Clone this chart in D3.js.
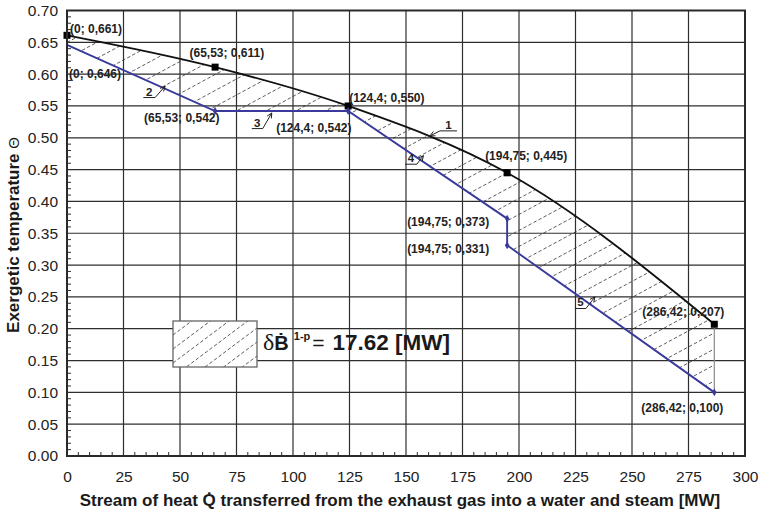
<!DOCTYPE html>
<html><head><meta charset="utf-8">
<script src="https://cdn.jsdelivr.net/npm/d3@7"></script>
<style>
html,body{margin:0;padding:0;background:#fff;}
svg{display:block;font-family:"Liberation Sans",Arial,Helvetica,sans-serif;}
</style></head><body>
<svg id="chart" width="758" height="514"></svg>
<script>
// Curve 1: exhaust gas; curves 2-5: water / steam side
const gasQ = [0, 65.53, 124.4, 194.75, 286.42];
const gasTheta = [0.661, 0.611, 0.550, 0.445, 0.207];
const steamQ = [0, 65.53, 124.4, 194.75, 194.75, 286.42];
const steamTheta = [0.646, 0.542, 0.542, 0.373, 0.331, 0.100];

const xTickValues = [0, 25, 50, 75, 100, 125, 150, 175, 200, 225, 250, 275, 300];
const yTickValues = [0.00, 0.05, 0.10, 0.15, 0.20, 0.25, 0.30, 0.35, 0.40, 0.45, 0.50, 0.55, 0.60, 0.65, 0.70];

const exergyLoss = 17.62;

// numbered curve references: label and the point the arrow touches
const refLabels = ["1", "2", "3", "4", "5"];
const refQ = [160.6, 43.4, 90.6, 157.7, 233.6];
const refTheta = [0.503, 0.581, 0.539, 0.472, 0.250];

// ---- layout ----
const W = 758, H = 514;
const plot = {left: 67, right: 745, top: 10.5, bottom: 456};
const svg = d3.select("#chart");

const x = d3.scaleLinear().domain([0, 300]).range([plot.left, plot.right]);
const y = d3.scaleLinear().domain([0, 0.7]).range([plot.bottom, plot.top]);

const gas = gasQ.map((q, i) => ({q, t: gasTheta[i]}));
const steam = steamQ.map((q, i) => ({q, t: steamTheta[i]}));

// background
svg.append("rect").attr("width", W).attr("height", H).attr("fill", "#fff");

// grid
const grid = svg.append("g").attr("stroke", "#2e2e2e").attr("stroke-width", 1.2);
grid.selectAll("line.v").data(xTickValues.slice(1, -1)).join("line")
  .attr("x1", d => x(d)).attr("x2", d => x(d))
  .attr("y1", plot.top).attr("y2", plot.bottom);
grid.selectAll("line.h").data(yTickValues.slice(1, -1)).join("line")
  .attr("y1", d => y(d)).attr("y2", d => y(d))
  .attr("x1", plot.left).attr("x2", plot.right);

// minor ticks pointing into the plot
const minor = svg.append("g").attr("stroke", "#2e2e2e").attr("stroke-width", 1);
const xMinor = d3.range(0, 300.001, 5).filter(v => v % 25 !== 0);
const yMinor = d3.range(0, 71, 1).map(v => v / 100).filter((v, i) => i % 5 !== 0);
minor.selectAll("line.xm").data(xMinor).join("line")
  .attr("x1", d => x(d)).attr("x2", d => x(d))
  .attr("y1", plot.bottom).attr("y2", plot.bottom - 4);
minor.selectAll("line.ym").data(yMinor).join("line")
  .attr("y1", d => y(d)).attr("y2", d => y(d))
  .attr("x1", plot.left).attr("x2", plot.left + 4);

// axis tick labels (domain/ticks hidden; the grid draws the lines)
const xAxis = svg.append("g").attr("transform", `translate(0,${plot.bottom})`)
  .call(d3.axisBottom(x).tickValues(xTickValues).tickSize(0).tickPadding(15).tickFormat(d3.format("d")));
const yAxis = svg.append("g").attr("transform", `translate(${plot.left},0)`)
  .call(d3.axisLeft(y).tickValues(yTickValues).tickSize(0).tickPadding(9).tickFormat(d3.format(".2f")));
[xAxis, yAxis].forEach(a => {
  a.select(".domain").remove();
  a.selectAll("text").attr("font-size", 15.5).attr("fill", "#222")
    .attr("font-family", "'Liberation Sans', Arial, sans-serif");
});
xAxis.selectAll("text").attr("dy", "0.71em");

// hatched region between the two curves
const gasLine = d3.line().x(d => x(d.q)).y(d => y(d.t)).curve(d3.curveMonotoneX);
const steamLine = d3.line().x(d => x(d.q)).y(d => y(d.t));
const regionPath = gasLine(gas) + steam.slice().reverse()
  .map(d => `L${x(d.q)},${y(d.t)}`).join("") + "Z";

const defs = svg.append("defs");
defs.append("clipPath").attr("id", "lossClip").append("path").attr("d", regionPath);

function hatch(g, x0, x1, y0, y1, slope, spacing, dash) {
  const span = (x1 - x0) * slope;
  const lines = d3.range(y0 - 2 * spacing, y1 + span + spacing, spacing);
  g.selectAll("line.hatch").data(lines).join("line")
    .attr("x1", x0).attr("y1", d => d)
    .attr("x2", x1).attr("y2", d => d - span)
    .attr("stroke", "#333").attr("stroke-width", 0.8)
    .attr("stroke-dasharray", dash);
}
const hatchG = svg.append("g").attr("clip-path", "url(#lossClip)");
hatch(hatchG, plot.left, plot.right, plot.top, plot.bottom, 0.54, 16, "3.5,2.2");

// closing vertical at the end of the range
svg.append("line")
  .attr("x1", x(gasQ[gasQ.length - 1])).attr("x2", x(gasQ[gasQ.length - 1]))
  .attr("y1", y(gasTheta[gasTheta.length - 1])).attr("y2", y(steamTheta[steamTheta.length - 1]))
  .attr("stroke", "#8a8a8a").attr("stroke-width", 1.2);

// curves
svg.append("path").attr("d", steamLine(steam)).attr("fill", "none")
  .attr("stroke", "#3a3a9c").attr("stroke-width", 1.9);
svg.append("path").attr("d", gasLine(gas)).attr("fill", "none")
  .attr("stroke", "#111").attr("stroke-width", 1.9);

// markers
svg.selectAll("rect.gm").data(gas).join("rect")
  .attr("x", d => x(d.q) - 3.5).attr("y", d => y(d.t) - 3.5)
  .attr("width", 7).attr("height", 7).attr("fill", "#000");
svg.selectAll("path.sm").data(steam.slice(1)).join("path")
  .attr("d", d3.symbol(d3.symbolDiamond, 18))
  .attr("transform", d => `translate(${x(d.q)},${y(d.t)})`)
  .attr("fill", "#3a3a9c");

// plot frame
svg.append("rect").attr("x", plot.left).attr("y", plot.top)
  .attr("width", plot.right - plot.left).attr("height", plot.bottom - plot.top)
  .attr("fill", "none").attr("stroke", "#2a2a2a").attr("stroke-width", 2);

// coordinate labels
const fmt = v => String(v).replace(".", ",");
const fmtT = v => v.toFixed(3).replace(".", ",");
const gasOffsets = [[3, -2], [-25.6, -10], [1, -4], [-22, -13], [-72, -8]];
const steamOffsets = [[2, 33], [-71, 11], [-72, 21], [-100, 7.4], [-100, 7.6], [-73, 20]];
const labelG = svg.append("g").attr("font-size", 12).attr("font-weight", "bold").attr("fill", "#222");
function pointLabels(pts, offs) {
  pts.forEach((d, i) => {
    labelG.append("text")
      .attr("x", x(d.q) + offs[i][0]).attr("y", y(d.t) + offs[i][1])
      .text(`(${fmt(d.q)}; ${fmtT(d.t)})`);
  });
}
pointLabels(gas, gasOffsets);
pointLabels(steam, steamOffsets);

// numbered references with leader lines and open arrowheads
const knee = [[10, -5], [-10, 11.3], [-9, 15.6], [-6.6, 8.6], [-9, 11.6]];
const farEnd = [27, -21.7, -20, -18.3, -20];
const refG = svg.append("g");
refLabels.forEach((lab, i) => {
  const tx = x(refQ[i]), ty = y(refTheta[i]);
  const kx = tx + knee[i][0], ky = ty + knee[i][1];
  const fx = tx + farEnd[i];
  refG.append("path")
    .attr("d", `M${fx},${ky}L${kx},${ky}L${tx},${ty}`)
    .attr("fill", "none").attr("stroke", "#222").attr("stroke-width", 1);
  const ang = Math.atan2(ty - ky, tx - kx);
  const a = 5.5, spread = 0.45;
  const p1 = [tx - a * Math.cos(ang - spread), ty - a * Math.sin(ang - spread)];
  const p2 = [tx - a * Math.cos(ang + spread), ty - a * Math.sin(ang + spread)];
  refG.append("path")
    .attr("d", `M${p1[0]},${p1[1]}L${tx},${ty}L${p2[0]},${p2[1]}`)
    .attr("fill", "none").attr("stroke", "#222").attr("stroke-width", 1);
  refG.append("text")
    .attr("x", (kx + fx) / 2).attr("y", ky - 2)
    .attr("text-anchor", "middle").attr("font-size", 11.5).attr("font-weight", "bold")
    .attr("fill", "#222").text(lab);
});

// legend: hatched box and loss value
const box = {x: 173, y: 321, w: 84, h: 46};
defs.append("clipPath").attr("id", "boxClip").append("rect")
  .attr("x", box.x).attr("y", box.y).attr("width", box.w).attr("height", box.h);
svg.append("rect").attr("x", box.x).attr("y", box.y).attr("width", box.w).attr("height", box.h)
  .attr("fill", "#fff");
const boxHatch = svg.append("g").attr("clip-path", "url(#boxClip)");
hatch(boxHatch, box.x, box.x + box.w, box.y, box.y + box.h, 0.75, 14, "3.5,2.2");
svg.append("rect").attr("x", box.x).attr("y", box.y).attr("width", box.w).attr("height", box.h)
  .attr("fill", "none").attr("stroke", "#666").attr("stroke-width", 1.3);

const legendText = svg.append("text").attr("x", 263).attr("y", 350).attr("fill", "#1a1a1a");
legendText.append("tspan").attr("font-family", "'Liberation Serif', 'DejaVu Serif', serif")
  .attr("font-size", 24).text("δ");
legendText.append("tspan").attr("font-size", 20).attr("font-weight", "bold").text("B\u0307");
legendText.append("tspan").attr("font-size", 11).attr("font-weight", "bold").attr("dx", 5).attr("dy", -10).text("1-p");
legendText.append("tspan").attr("font-size", 21).attr("dx", 2).attr("dy", 10).text("=");
legendText.append("tspan").attr("font-size", 22.5).attr("font-weight", "bold").attr("dx", 8)
  .text(`${exergyLoss.toFixed(2)} [MW]`);

// axis titles
svg.append("text").attr("x", 400).attr("y", 506).attr("text-anchor", "middle")
  .attr("font-size", 17).attr("font-weight", "bold").attr("fill", "#1a1a1a")
  .text("Stream of heat Q\u0307 transferred from the exhaust gas into a water and steam [MW]");
const yTitle = svg.append("text").attr("transform", "translate(19,235) rotate(-90)")
  .attr("text-anchor", "middle").attr("font-size", 17).attr("fill", "#1a1a1a");
yTitle.append("tspan").attr("font-weight", "bold").text("Exergetic temperature ");
yTitle.append("tspan").attr("font-weight", "normal").attr("font-size", 15).text("Θ");
</script>
</body></html>
